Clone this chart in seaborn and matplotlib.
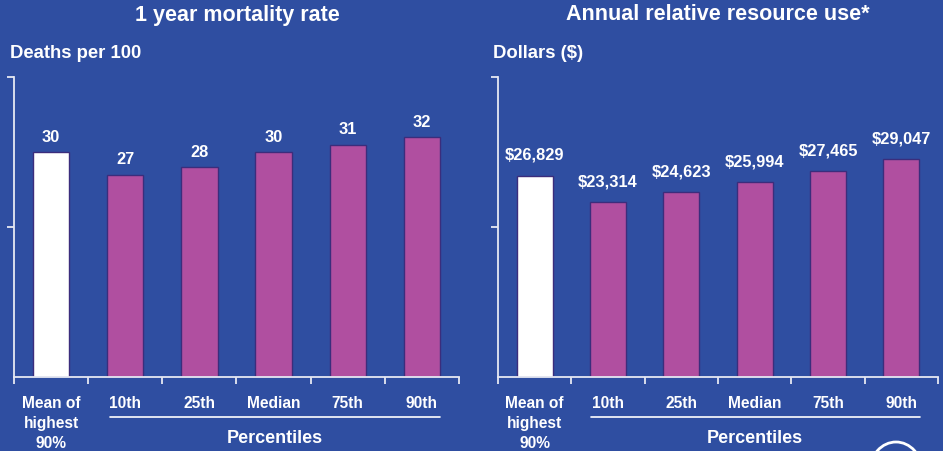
import pandas as pd
import seaborn as sns
import matplotlib.pyplot as plt
from matplotlib.patches import Ellipse
from matplotlib.lines import Line2D

# Data
categories = ['Mean of\nhighest\n90%', '10th', '25th', 'Median', '75th', '90th']
mortality = [30, 27, 28, 30, 31, 32]
resource_use = [26829, 23314, 24623, 25994, 27465, 29047]
resource_labels = ['$26,829', '$23,314', '$24,623', '$25,994', '$27,465', '$29,047']

BG = '#2F4EA1'
MAGENTA = '#B04FA0'
EDGE = '#3B2D7C'
WHITE = '#FFFFFF'
AXIS = '#E6E8F2'

sns.set_style('white')
plt.rcParams['font.family'] = ['Liberation Sans', 'DejaVu Sans']

df = pd.DataFrame({'category': categories, 'mortality': mortality,
                   'resource': resource_use})
palette = {c: (WHITE if i == 0 else MAGENTA) for i, c in enumerate(categories)}

fig = plt.figure(figsize=(9.43, 4.52), dpi=100, facecolor=BG)
ax1 = fig.add_axes([14 / 943, 74 / 452, 445 / 943, 304 / 452])
ax2 = fig.add_axes([498 / 943, 74 / 452, 440 / 943, 304 / 452])


def draw_panel(ax, col, ymax, labels, gap):
    sns.barplot(data=df, x='category', y=col, hue='category', palette=palette,
                order=categories, hue_order=categories, width=0.49,
                saturation=1, edgecolor=EDGE, linewidth=1.0, legend=False,
                ax=ax)
    ax.set_facecolor(BG)
    ax.set_xlim(-0.5, len(categories) - 0.5)
    ax.set_ylim(0, ymax * 304 / 300)
    ax.set_xlabel('')
    ax.set_ylabel('')
    for s in ['top', 'right']:
        ax.spines[s].set_visible(False)
    for s in ['left', 'bottom']:
        ax.spines[s].set_color(AXIS)
        ax.spines[s].set_linewidth(1.3)
    ax.spines['left'].set_bounds(0, ymax)
    # boundary ticks on x, labels at centers
    ax.set_xticks([i - 0.5 for i in range(len(categories) + 1)], minor=True)
    ax.set_xticks(range(len(categories)))
    ax.set_xticklabels(categories, color=WHITE, fontsize=11.2,
                       fontweight='bold', linespacing=1.4)
    ax.tick_params(axis='x', which='major', bottom=True, length=0, pad=13)
    ax.tick_params(axis='x', which='minor', bottom=True, length=5, color=AXIS,
                   width=1.3, direction='out')
    ax.set_yticks([ymax / 2, ymax])
    ax.set_yticklabels([])
    ax.tick_params(axis='y', left=True, length=5, color=AXIS, width=1.3,
                   direction='out')
    for i, (v, lab) in enumerate(zip(df[col], labels)):
        ax.annotate(lab, (i, v), xytext=(0, gap), textcoords='offset points',
                    ha='center', va='bottom', color=WHITE, fontsize=11.8,
                    fontweight='bold')


draw_panel(ax1, 'mortality', 40, [str(v) for v in mortality], 6)
draw_panel(ax2, 'resource', 40000, resource_labels, 10)

# titles and unit labels
fig.text(237 / 943, 1 - 15 / 452, '1 year mortality rate', ha='center',
         va='center', color=WHITE, fontsize=15.5, fontweight='bold')
fig.text(718 / 943, 1 - 15 / 452, 'Annual relative resource use*', ha='center',
         va='center', color=WHITE, fontsize=15.5, fontweight='bold')
fig.text(10 / 943, 1 - 53 / 452, 'Deaths per 100', ha='left', va='center',
         color=WHITE, fontsize=13.3, fontweight='bold')
fig.text(493 / 943, 1 - 53 / 452, 'Dollars ($)', ha='left', va='center',
         color=WHITE, fontsize=13.3, fontweight='bold')

# percentile brackets
for x0, x1, xc in [(110, 440, 275), (591, 920, 755)]:
    fig.add_artist(Line2D([x0 / 943, x1 / 943], [1 - 418 / 452] * 2,
                          color=WHITE, lw=1.2, transform=fig.transFigure))
    fig.text(xc / 943, 1 - 439 / 452, 'Percentiles', ha='center', va='center',
             color=WHITE, fontsize=13, fontweight='bold')

# logo arc at the bottom right corner
fig.add_artist(Ellipse((896 / 943, 1 - 472 / 452), 52 / 943, 58 / 452,
                       fill=False, edgecolor=WHITE, lw=2,
                       transform=fig.transFigure))

fig.savefig('out.png', dpi=100, facecolor=BG)
